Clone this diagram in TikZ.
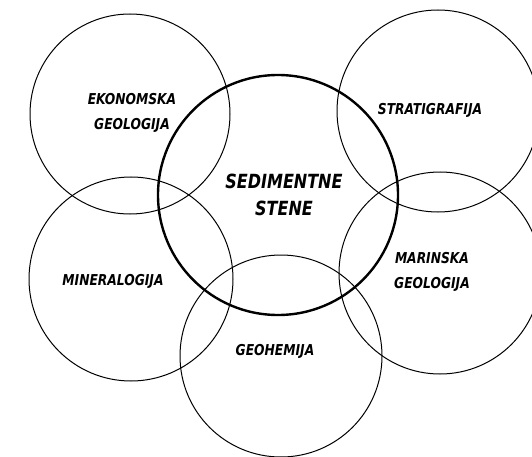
\documentclass[tikz,border=0pt]{standalone}
\usepackage{fontspec}
\newfontfamily\labfont{DejaVu Sans}[FakeStretch=0.82]
\tikzset{
  ring/.style={circle, draw=black, line width=1pt, inner sep=0pt},
  mainring/.style={circle, draw=black, line width=2.4pt, inner sep=0pt},
  lab/.style={align=center, inner sep=0pt, font=\labfont\bfseries\itshape\fontsize{15}{25}\selectfont},
  biglab/.style={align=center, inner sep=0pt, font=\labfont\bfseries\itshape\fontsize{19.5}{27}\selectfont}
}
\begin{document}
\begin{tikzpicture}[x=1pt,y=-1pt]
\path[use as bounding box] (0,0) rectangle (532,457);
\clip (0,0) rectangle (532,457);
% surrounding circles
\node[ring, minimum size=200pt] (ek) at (130,114) {};
\node[ring, minimum size=202pt] (st) at (438,111) {};
\node[ring, minimum size=204pt] (mi) at (131,279) {};
\node[ring, minimum size=202pt] (ma) at (440,273) {};
\node[ring, minimum size=202pt] (ge) at (281,356) {};
% central circle
\node[mainring, minimum size=240pt] (se) at (278,195) {};
% labels
\node[lab] (tek) at (132,112.5) {EKONOMSKA\\GEOLOGIJA};
\node[lab] (tst) at (430,110) {STRATIGRAFIJA};
\node[biglab] (tse) at (284,194.5) {SEDIMENTNE\\STENE};
\node[lab] (tmi) at (113,281) {MINERALOGIJA};
\node[lab] (tma) at (432,272) {MARINSKA\\GEOLOGIJA};
\node[lab] (tge) at (275,351) {GEOHEMIJA};
\end{tikzpicture}
\end{document}
